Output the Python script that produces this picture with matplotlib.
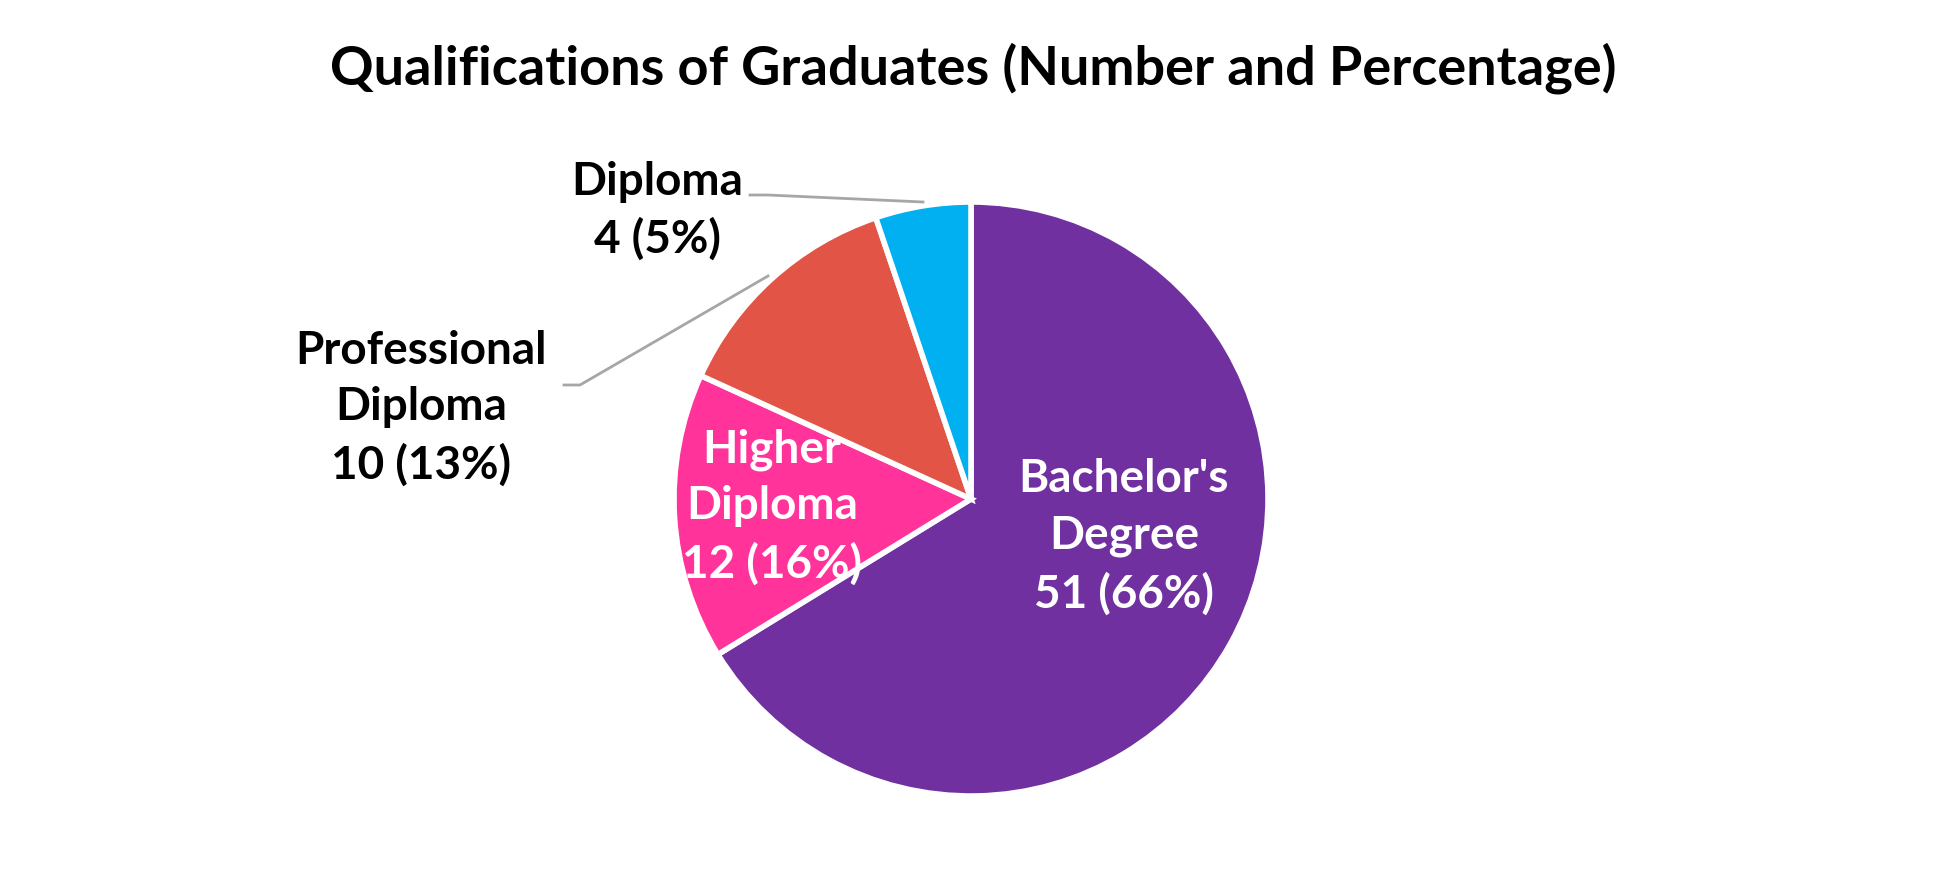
import matplotlib
matplotlib.use("Agg")
import matplotlib.pyplot as plt

# data
categories = ["Bachelor's\nDegree", "Higher\nDiploma", "Professional\nDiploma", "Diploma"]
counts = [51, 12, 10, 4]
colors = ["#7030A0", "#FF3399", "#E15446", "#00B0F0"]

W, H = 1943, 892
plt.rcParams['font.family'] = ['Lato', 'DejaVu Sans']

fig = plt.figure(figsize=(W / 100, H / 100), dpi=100)
ax = fig.add_axes([0, 0, 1, 1])
ax.set_xlim(0, W)
ax.set_ylim(0, H)
ax.axis('off')


def py(y):
    # pixel row (from top) -> data y
    return H - y


cx, cy, r = 971, 499, 297
ax.pie(counts, colors=colors, startangle=90, counterclock=False,
       center=(cx, py(cy)), radius=r,
       wedgeprops=dict(edgecolor='white', linewidth=4))
ax.set_xlim(0, W)
ax.set_ylim(0, H)

total = sum(counts)
labels = [f"{c}\n{n} ({n / total:.0%})" for c, n in zip(categories, counts)]

# label anchors (pixel coords of text centre)
pos = [(1124, 537), (772, 507), (421, 408), (657, 211)]
tcol = ['white', 'white', 'black', 'black']
for lab, (x, y), col in zip(labels, pos, tcol):
    ax.text(x, py(y), lab, ha='center', va='center', color=col,
            fontsize=33, fontweight='bold', linespacing=1.42)

# leader lines
ax.plot([750, 768, 923], [py(195), py(195), py(202)], color='#A6A6A6', lw=2)
ax.plot([564, 580, 768], [py(385), py(385), py(276)], color='#A6A6A6', lw=2)

ax.text(W / 2 + 2, py(68), "Qualifications of Graduates (Number and Percentage)",
        ha='center', va='center', fontsize=39, fontweight='bold')

fig.savefig('out.png', dpi=100)
